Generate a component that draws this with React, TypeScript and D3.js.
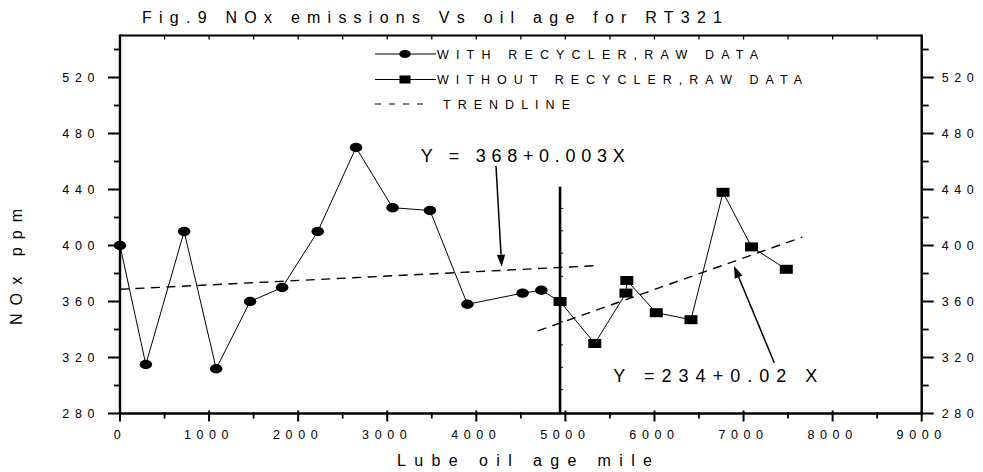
import React from "react";
import * as d3 from "d3";

// ---------- data ----------
const withX = [0, 290, 720, 1080, 1460, 1820, 2220, 2650, 3060, 3480, 3900, 4520, 4730];
const withY = [400, 315, 410, 312, 360, 370, 410, 470, 427, 425, 358, 366, 368];
const withoutX = [4940, 5330, 5680, 5690, 6020, 6410, 6770, 7090, 7480];
const withoutY = [360, 330, 366, 375, 352, 347, 438, 399, 383];
const trend1X = [0, 5350];
const trend1Y = [368.7, 385.6];
const trend2X = [4690, 7660];
const trend2Y = [339, 406];
const xTickLabels = [0, 1000, 2000, 3000, 4000, 5000, 6000, 7000, 8000, 9000];
const yTickLabels = [280, 320, 360, 400, 440, 480, 520];
const dividerX = 4940;
const dividerTop = 442;
const dividerTicks = [297, 313, 329, 345.5, 361.5, 378, 394.5, 410.5, 426.5];
const legendLabels = ["WITH RECYCLER,RAW DATA", "WITHOUT RECYCLER,RAW DATA", "TRENDLINE"];
const eq1 = "Y = 368+0.003X";
const eq2 = "Y  =234+0.02  X";
const arrow1 = { from: [4221, 456.8], to: [4285, 384.9] };
const arrow2 = { from: [7345, 316.3], to: [6893, 385.4] };
const titleText = "Fig.9  NOx emissions Vs oil age for RT321";
const xTitle = "Lube oil age  mile";
const yTitle = "NOx  ppm";

const FONT = "'Liberation Sans', Arial, Helvetica, sans-serif";

export default function App() {
  const W = 983, H = 472;
  const x = d3.scaleLinear().domain([0, 9000]).range([120, 921.7]);
  const y = d3.scaleLinear().domain([280, 550]).range([413.5, 35.5]);
  const left = x(0), right = x(9000), top = y(550), bottom = y(280);

  const line = d3.line<[number, number]>().x(d => x(d[0])).y(d => y(d[1]));
  const withPts: [number, number][] = withX.map((v, i) => [v, withY[i]]);
  const withoutPts: [number, number][] = withoutX.map((v, i) => [v, withoutY[i]]);
  const withLinePts = [...withPts, withoutPts[0]];

  const minorY = d3.range(300, 550, 40);
  const minorX = d3.range(500, 9000, 1000);
  const topTicks = d3.range(500, 9000, 500);

  const arrowHead = (a: { from: number[]; to: number[] }) => {
    const x1 = x(a.from[0]), y1 = y(a.from[1]), x2 = x(a.to[0]), y2 = y(a.to[1]);
    const ang = Math.atan2(y2 - y1, x2 - x1);
    const L = 12, hw = 4.2;
    const bx = x2 - L * Math.cos(ang), by = y2 - L * Math.sin(ang);
    const px = -Math.sin(ang) * hw, py = Math.cos(ang) * hw;
    return (
      <g>
        <line x1={x1} y1={y1} x2={bx} y2={by} stroke="#000" strokeWidth={1.5} />
        <polygon points={`${x2},${y2} ${bx + px},${by + py} ${bx - px},${by - py}`} fill="#000" />
      </g>
    );
  };

  const legY = [54, 79.5, 104];
  const legTextX = [437, 437, 443];
  const legLen = [321, 365, 127];

  return (
    <svg width={W} height={H} style={{ position: "absolute", left: 0, top: 0, background: "#fff" }} fontFamily={FONT}>
      <rect x={0} y={0} width={W} height={H} fill="#fff" />
      {/* title */}
      <text x={142} y={23} fontSize={16} textLength={580} lengthAdjust="spacing">{titleText}</text>

      {/* frame */}
      <line x1={left} y1={top} x2={right} y2={top} stroke="#000" strokeWidth={2} />
      {topTicks.map(t => (
        <line key={"tt" + t} x1={x(t)} x2={x(t)} y1={top} y2={top + 4} stroke="#000" strokeWidth={1.3} />
      ))}
      <line x1={left} y1={top - 1} x2={left} y2={bottom + 1} stroke="#000" strokeWidth={2.4} />
      <line x1={right} y1={top - 1} x2={right} y2={bottom + 1} stroke="#000" strokeWidth={2.4} />
      <line x1={left} y1={bottom} x2={right} y2={bottom} stroke="#000" strokeWidth={2.4} />

      {/* left / right y ticks */}
      {yTickLabels.map(t => (
        <g key={"yt" + t}>
          <line x1={left - 12} x2={left} y1={y(t)} y2={y(t)} stroke="#000" strokeWidth={2} />
          <line x1={right} x2={right + 12} y1={y(t)} y2={y(t)} stroke="#000" strokeWidth={2} />
          <text x={95 + 5} y={y(t) + 4.5} fontSize={12.5} letterSpacing={5.6} textAnchor="end">{t}</text>
          <text x={941.7} y={y(t) + 4.5} fontSize={12.5} letterSpacing={5.6}>{t}</text>
        </g>
      ))}
      {minorY.map(t => (
        <g key={"my" + t}>
          <line x1={left - 6} x2={left} y1={y(t)} y2={y(t)} stroke="#000" strokeWidth={1.8} />
          <line x1={right} x2={right + 7} y1={y(t)} y2={y(t)} stroke="#000" strokeWidth={1.8} />
        </g>
      ))}

      {/* x ticks */}
      {xTickLabels.map(t => (
        <g key={"xt" + t}>
          <line x1={x(t)} x2={x(t)} y1={bottom - 3} y2={bottom + 8} stroke="#000" strokeWidth={2} />
          <text x={x(t)} y={439} fontSize={12.5} letterSpacing={5.6} textAnchor="middle">{t}</text>
        </g>
      ))}
      {minorX.map(t => (
        <line key={"mx" + t} x1={x(t)} x2={x(t)} y1={bottom - 1.5} y2={bottom + 5} stroke="#000" strokeWidth={1.8} />
      ))}

      {/* axis titles */}
      <text x={397} y={466} fontSize={16} textLength={255} lengthAdjust="spacing">{xTitle}</text>
      <text transform="translate(22,325) rotate(-90)" fontSize={16} textLength={116} lengthAdjust="spacing">{yTitle}</text>

      {/* divider line */}
      <line x1={x(dividerX)} x2={x(dividerX)} y1={y(dividerTop)} y2={bottom} stroke="#000" strokeWidth={2.6} />
      {dividerTicks.map(t => (
        <line key={"dv" + t} x1={x(dividerX) + 1} x2={x(dividerX) + 3} y1={y(t)} y2={y(t)} stroke="#000" strokeWidth={1} />
      ))}

      {/* trendlines */}
      <path d={line(trend1X.map((v, i) => [v, trend1Y[i]]) as [number, number][]) || ""} fill="none" stroke="#000" strokeWidth={1.4} strokeDasharray="9,6.5" />
      <path d={line(trend2X.map((v, i) => [v, trend2Y[i]]) as [number, number][]) || ""} fill="none" stroke="#000" strokeWidth={1.4} strokeDasharray="9,6.5" />

      {/* series lines */}
      <path d={line(withLinePts) || ""} fill="none" stroke="#000" strokeWidth={1} />
      <path d={line(withoutPts) || ""} fill="none" stroke="#000" strokeWidth={1} />
      {withPts.map((p, i) => (
        <ellipse key={"c" + i} cx={x(p[0])} cy={y(p[1])} rx={6.3} ry={4.7} fill="#000" />
      ))}
      {withoutPts.map((p, i) => (
        <rect key={"s" + i} x={x(p[0]) - 6.5} y={y(p[1]) - 4.5} width={13} height={9} fill="#000" />
      ))}

      {/* annotations */}
      <text x={420.7} y={161.7} fontSize={18} textLength={204} lengthAdjust="spacing">{eq1}</text>
      {arrowHead(arrow1)}
      <text x={613.3} y={382} fontSize={18} textLength={204} lengthAdjust="spacing">{eq2}</text>
      {arrowHead(arrow2)}

      {/* legend */}
      <line x1={375} x2={436} y1={legY[0]} y2={legY[0]} stroke="#000" strokeWidth={1} />
      <ellipse cx={405} cy={legY[0]} rx={5.8} ry={4} fill="#000" />
      <line x1={375} x2={436} y1={legY[1]} y2={legY[1]} stroke="#000" strokeWidth={1} />
      <rect x={405 - 5.5} y={legY[1] - 4} width={11} height={8} fill="#000" />
      <line x1={375} x2={423.5} y1={legY[2]} y2={legY[2]} stroke="#000" strokeWidth={1.2} strokeDasharray="6,8" />
      {legendLabels.map((l, i) => (
        <text key={l} x={legTextX[i]} y={legY[i] + 4.5} fontSize={12.5} textLength={legLen[i]} lengthAdjust="spacing">{l}</text>
      ))}
    </svg>
  );
}
